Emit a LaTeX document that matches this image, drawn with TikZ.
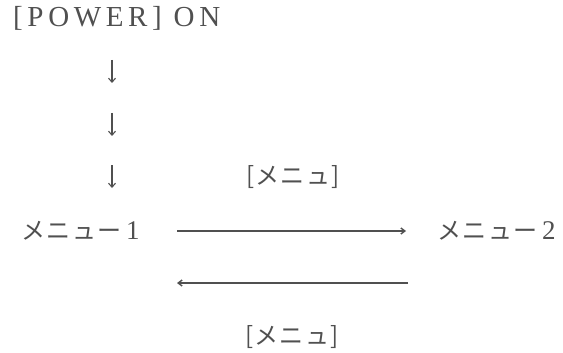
\documentclass[tikz,border=0pt]{standalone}
\usepackage{fontspec}
\setmainfont{Liberation Serif}
\newfontfamily\jp[LetterSpace=6]{Noto Sans CJK JP}
\newfontfamily\lat[LetterSpace=16]{Liberation Serif}
\usetikzlibrary{arrows.meta}
\definecolor{ink}{HTML}{505050}
\tikzset{
  txt/.style={text=ink, inner sep=0pt, font=\fontsize{27}{29}\selectfont},
  conn/.style={draw=ink, line width=1.4pt, -{Straight Barb[length=4pt,width=6pt]}},
  down/.style={draw=ink, line width=1.1pt, -{Straight Barb[length=4pt,width=7pt]}}
}
\begin{document}
\begin{tikzpicture}[x=1pt,y=-1pt]
\useasboundingbox (0,0) rectangle (563,353);
\node[txt, anchor=west] (pw) at (13,18) {\lat\fontsize{29}{31}\selectfont [POWER] ON};
\coordinate (a1s) at (112,60); \coordinate (a1e) at (112,83);
\coordinate (a2s) at (112,113); \coordinate (a2e) at (112,136);
\coordinate (a3s) at (112,165); \coordinate (a3e) at (112,188);
\draw[down] (a1s) -- (a1e);
\draw[down] (a2s) -- (a2e);
\draw[down] (a3s) -- (a3e);
\node[txt, anchor=west] (m1) at (21,231) {{\jp\fontsize{24}{26}\selectfont メニュー}\,1};
\node[txt, anchor=west] (m2) at (437,231) {{\jp\fontsize{24}{26}\selectfont メニュー}\,2};
\node[txt] (k1) at (293,177) {{\jp\fontsize{24}{26}\selectfont [メニュ]}};
\node[txt] (k2) at (292,337) {{\jp\fontsize{24}{26}\selectfont [メニュ]}};
\coordinate (r1) at (177,231); \coordinate (r2) at (406,231);
\coordinate (l1) at (408,283); \coordinate (l2) at (177,283);
\draw[conn] (r1) -- (r2);
\draw[conn] (l1) -- (l2);
\end{tikzpicture}
\end{document}
